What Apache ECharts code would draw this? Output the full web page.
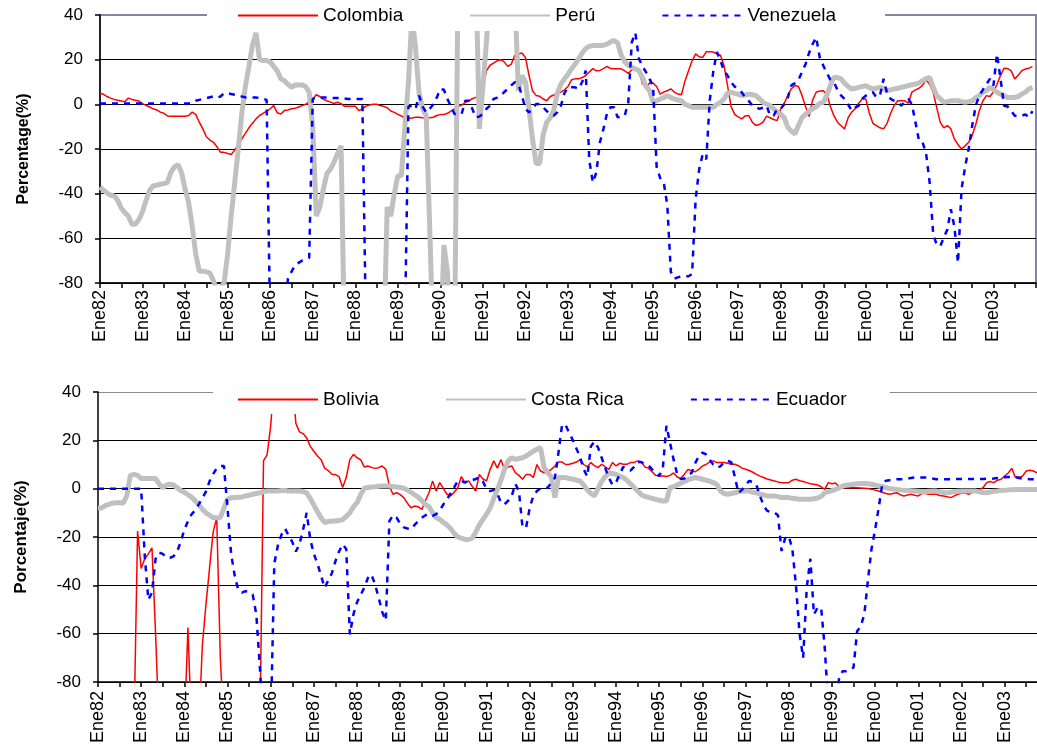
<!DOCTYPE html>
<html><head><meta charset="utf-8">
<script src="https://cdn.jsdelivr.net/npm/echarts@6/dist/echarts.min.js"></script>
<style>html,body{margin:0;padding:0;background:#fff}#c{width:1037px;height:747px}</style>
</head><body><div id="c"></div>
<script>
// ---- tick labels ----
const monthNames = ['Ene','Feb','Mar','Abr','May','Jun','Jul','Ago','Sep','Oct','Nov','Dic'];
const yearLabels = ['82','83','84','85','86','87','88','89','90','91','92','93','94','95','96','97','98','99','00','01','02','03'];
const legendTop = ['Colombia','Perú','Venezuela'];
const legendBottom = ['Bolivia','Costa Rica','Ecuador'];

// ---- series values (monthly, % ; one row per year) ----
const colombia = [
 5, 4.5, 3.5, 2.8, 2.2, 1.8, 1.5, 1.2, 2.8, 2.2, 1.8, 1.5,
 0.3, -0.5, -1.2, -2, -2.5, -3.5, -4, -5.2, -5.3, -5.3, -5.3, -5.3,
 -5.3, -5, -3.5, -4.5, -8, -11, -14.5, -16, -17, -19, -21.5, -21.5,
 -22, -22.5, -20.5, -18, -15.5, -13, -10.5, -8.5, -6.5, -5, -4, -3,
 -2, -0.6, -3.8, -4.3, -2.8, -2.5, -2, -1.8, -1.2, -0.6, 0, 1.2,
 2.4, 4.3, 3.5, 2.2, 1.6, 1, 0.4, 0.9, 0.3, -0.9, -0.9, -0.9,
 -0.9, -2.8, -2, -0.8, -0.3, 0, 0, -0.5, -0.9, -1.5, -3, -3.6,
 -4.5, -5.2, -6.3, -6.3, -6.1, -5.8, -5.8, -6, -6.1, -6, -5.8, -5,
 -4.6, -4.6, -4, -3, -2, -1, -0.3, 0.8, 1.6, 2.5, 3.1, 3.9,
 8, 15, 17.5, 18.5, 19.5, 20, 19, 17, 18, 22, 22.5, 23,
 21, 13, 6, 4, 3.6, 2.4, 1.6, 3.5, 4.2, 4.6, 5.5, 6.5,
 8, 11, 11.4, 11.4, 12, 12.9, 14.5, 16, 15, 15.2, 16, 17,
 16, 15.9, 15.9, 15.9, 15, 13.8, 15.5, 16.3, 15.2, 9.1, 7.8, 9.5,
 9.5, 8, 4.6, 5.5, 6.1, 6.9, 5.5, 4.6, 4.3, 10.5, 15, 19.5,
 22.6, 21.3, 21, 23.6, 23.5, 23.4, 22.5, 22, 17.4, 8.4, -1, -4.5,
 -5.6, -6.5, -5.2, -5, -8.1, -9.4, -9, -8, -5.3, -6, -6.8, -7.3,
 -2, 0.5, 4, 7, 8.4, 8, 4, -1, -5.5, 2, 5.4, 6,
 6.1, 4.5, -1, -5.1, -8, -9.6, -11, -6, -3.5, -2, 0.5, 2.4,
 2.4, -4, -8.5, -9.5, -10.5, -11, -8.5, -4, -0.5, 1.6, 1.6, 1.6,
 0.5, 5.5, 6.5, 7.2, 8.5, 11, 9, 5.4, -1.5, -8.1, -10.5, -9.5,
 -11, -15.6, -18, -20, -18.6, -17, -14, -9, -3, 1.5, 3.9, 3.5,
 5.5, 9, 13, 16.2, 16, 15, 11.4, 13, 15.1, 15.8, 16.2, 16.9
];
const peru = [
 -37, -38.5, -39.7, -40.7, -41, -43, -46.5, -48.5, -50, -53.7, -53.7, -51.5,
 -48, -43, -38.5, -36.5, -36.2, -35.8, -35.5, -35, -30.5, -28, -27, -30.5,
 -38, -44, -54.5, -67, -74.7, -74.7, -75, -75.5, -79, -84, -82, -80,
 -67, -50, -35, -20, -4, 8, 17, 26.5, 32, 20, 19.6, 19.6,
 19, 17, 15, 11.4, 10.6, 9, 7.6, 8.7, 8.7, 8.7, 8, 5.4,
 -10, -50, -46, -38, -31, -29, -26, -22, -18.6, -110, -110, -110,
 -110, -110, -110, -110, -110, -110, -110, -110, -110, -46, -50, -40,
 -32, -32, -10, 10, 40, 25, 5, -2, -5, -55, -110, -110,
 -110, -63, -75, -110, -110, 60, 60, 60, 60, 60, 60, -11,
 8, 28, 50, 60, 60, 60, 60, 60, 60, 50, 6, 12.9,
 10, -2, -15.6, -26.5, -26.5, -13.5, -8, -6, -2.5, 5, 9, 11.4,
 13.5, 15.9, 18, 20.4, 23, 25, 26, 26.3, 26.3, 26.3, 26.5, 27,
 28, 28.6, 27.5, 22, 19, 17.5, 16.6, 15.8, 15.1, 12, 8, 6.1,
 0.9, 1.6, 2.4, 3, 3.9, 3, 2.4, 2, 1.6, 0, -0.6, -1.3,
 -1.3, -1.3, -1.3, -1.3, -1.3, -1.3, 0, 0.9, 2.4, 5, 5.4, 4.9,
 4.5, 3.9, 4.2, 4.6, 4.3, 3.9, 2.5, 0.9, 0.1, -0.6, -2, -3.5,
 -4.3, -6, -10.3, -12, -13.3, -9.5, -6, -4.5, -3, -2, -1, 0.5,
 0.9, 4, 8.5, 12.1, 12, 11.4, 9.5, 8, 6.9, 7.2, 7.6, 8,
 8.4, 7.5, 6.9, 7.2, 7.6, 7, 6.1, 6.5, 6.9, 7.2, 7.6, 8,
 8.4, 8.8, 9.1, 9.5, 10.6, 11.5, 12.1, 7.6, 3.9, 2.5, 0.9, 1.2,
 1.6, 1.6, 1.6, 1.2, 0.9, 1.2, 1.6, 3, 3.9, 5.5, 6.1, 7.6,
 6.5, 5.4, 4.5, 3.9, 3.1, 3.1, 3.1, 3.5, 4.6, 5.5, 6.9, 7.6
];
const venezuela = [
 0.4, 0.4, 0.4, 0.4, 0.4, 0.4, 0.4, 0.4, 0.4, 0.4, 0.4, 0.4,
 0.4, 0.4, 0.4, 0.4, 0.4, 0.4, 0.4, 0.4, 0.4, 0.4, 0.4, 0.4,
 0.4, 0.4, 0.6, 1.6, 2, 2.4, 2.8, 3.2, 3.6, 3, 3.5, 5,
 5, 4.6, 4.3, 4, 3.5, 3.1, 3.1, 3.1, 3.1, 2.8, 2.4, 2,
 -100, -100, -100, -100, -100, -78, -75, -72, -71, -70, -69.5, -68.7,
 2.4, 3.1, 3.1, 3.1, 3.1, 3, 2.8, 2.8, 2.8, 2.6, 2.4, 2.4,
 2.4, 2.4, 2.4, -100, -100, -100, -100, -100, -100, -100, -100, -100,
 -100, -100, -100, -1, -0.6, -2, 3.9, -1, -3.6, -2, 0, 3.1,
 6.9, 6.5, 2.4, -1, -4.3, -4.3, -4.3, 1.6, 1.6, -2, -5.8, -5.5,
 -4.3, -2, -0.6, 2.4, 3, 3.9, 5.5, 6.9, 8.5, 9.9, 9.1, 3.9,
 -2, -3.6, -2, 0.1, 0.1, -1.3, -3, -4.3, -5.1, -3.5, -0.6, 5,
 7.6, 7.6, 7.6, 6.9, 10, 15.1, -25, -35, -30.5, -17, -11, -4,
 -1.3, -1.3, -5.8, -5.5, -5.1, 0.9, 27.8, 32, 20.5, 17, 14.4, 11.4,
 8, -28, -33, -35, -45, -75, -78, -77.5, -77, -77, -77, -76,
 -42.5, -29, -22.3, -24.6, 2, 15, 23.4, 19.6, 15, 12.9, 9.9, 8,
 6.5, 5.4, 3, 1.5, -0.5, -1.3, -2, -1.5, -0.6, -5, -5.1, -2,
 -2, 0, 3, 8.5, 9.5, 11, 14.4, 18, 23, 27, 30, 21,
 17.4, 14, 11, 9.9, 6.5, 4, 2.4, 0, -2.8, -1.5, -0.6, 2.5,
 3.9, 5, 5.4, 3.1, 4, 11.4, 5, 2.4, 1.6, 1, -0.6, 1,
 2.4, 0, -8, -16.3, -17, -22, -35, -58, -63, -63.5, -59.7, -56,
 -47, -55, -71, -38, -28, -20, -9.6, -0.6, 3.9, 6.5, 9, 11.4,
 8.4, 22.6, 11.4, -0.6, -1, -3, -5.1, -5.1, -5.1, -4.5, -5.8, -3
];
const bolivia = [
 -100, -100, -100, -100, -100, -100, -100, -100, -100, -100, -100, -17.5,
 -33, -29, -27, -24.5, -60, -100, -100, -100, -100, -100, -100, -100,
 -100, -57.5, -100, -100, -100, -65, -48, -33, -18, -12, -70, -100,
 -100, -100, -100, -100, -100, -100, -100, -100, -100, -100, 11.5, 14,
 26, 45, 45, 45, 45, 45, 45, 27, 23.5, 22.8, 21, 17.5,
 15.5, 13.5, 12, 8.5, 7.5, 6, 5.8, 5, 0.5, 4.6, 12, 14.2,
 12.8, 12, 9, 9.4, 8.8, 8.4, 8.7, 9.4, 8, 1, -2.3, -1.7,
 -2.5, -3.7, -6, -7.9, -7.2, -7.5, -8.6, -5, -1.7, 3.2, -1, 2.5,
 0, -2.3, -3, -1.5, 0.4, 5, 2.5, 3.2, 1, -1, 5.9, 4,
 3.2, 8, 11.5, 8.5, 12, 8, 9, 9.4, 6.6, 5.5, 3.9, 5.9,
 5.9, 4.6, 10, 7.3, 6.6, 7, 8, 9.4, 11, 11, 10, 10.1,
 10.5, 11, 12, 10, 9, 10.8, 9.5, 8.7, 10.1, 9, 8, 10.8,
 9.4, 10.5, 10.1, 10.1, 10.8, 10.8, 11.5, 11, 9, 8.5, 7, 5.5,
 5.2, 5.2, 5, 5.5, 6.5, 4.8, 4.2, 6, 8, 7.3, 7, 8,
 9.4, 10, 11, 11.5, 10.8, 10.8, 10.8, 10.5, 10.1, 10.1, 9.5, 8.5,
 8, 7.5, 6.8, 5.9, 5.2, 4.6, 4, 3.6, 3.2, 2.8, 2.5, 2.5,
 2.5, 3.5, 3.9, 3.3, 3, 2.5, 2, 1.8, 1.5, 0.8, -0.3, 2.5,
 2, 2.3, 0.8, 0.4, 0.4, 0.4, 0.4, 0.4, 0.3, 0.2, 0.1, -0.2,
 -0.6, -1, -1.5, -2, -2.3, -2, -1.7, -2.5, -3, -2.6, -2.3, -2.7,
 -3, -2, -2, -2.3, -2.3, -2.3, -2.8, -3, -3.3, -3.7, -3, -2.3,
 -1.8, -1.7, -2.3, -1.5, -1, -0.5, 0.4, 2.5, 3, 2.5, 3.5, 3.9,
 5.2, 6.5, 8.4, 4.6, 4.8, 5.2, 7.3, 7.6, 7.3, 6.6
];
const costaRica = [
 -8, -8, -7, -6.5, -6, -5.8, -5.8, -6, -3, 5.5, 5.9, 5.5,
 4.2, 4.2, 4.2, 4.2, 4.2, 2, 0.4, 1.5, 1.8, 1.5, 0.4, -0.8,
 -1.5, -2.5, -3.5, -5, -6.5, -8.5, -10, -11, -12, -12, -12, -8,
 -4.4, -3.8, -3.7, -3.6, -3.5, -3, -2.7, -2.3, -2, -1.7, -1.2, -1,
 -1, -1, -1, -0.8, -0.8, -1, -1, -1, -1, -1.2, -1.7, -4,
 -6.8, -9.5, -12, -14, -13.6, -13.4, -13.4, -13.2, -12.8, -11.5, -10, -7.5,
 -5.8, -2.5, 0.2, 0.5, 0.7, 0.8, 1, 1.1, 1.1, 1.1, 0.9, 0.7,
 0.5, 0.2, -0.6, -1.5, -2.5, -3.5, -5, -6.5, -7.5, -10, -12, -12.7,
 -14, -15, -16.5, -18.5, -20, -20.5, -21, -21, -20.5, -18, -15, -12.7,
 -10.5, -8, -4, -0.5, 3.5, 8, 11.5, 12.8, 12.1, 12.5, 12.8, 13.5,
 14.5, 15.5, 16.3, 17, 8.7, 6.6, 5, -3.7, 4.6, 4.6, 4.6, 4.2,
 3.9, 3.5, 3.2, 1.5, -0.5, -2, -3, 0, 3, 5, 6.6, 6.3,
 5.9, 5.2, 4.6, 3.5, 2, 0.5, -1, -2.5, -3.2, -3.6, -4, -4.4,
 -4.8, -5.1, -5.1, 0.4, 0.8, 1.5, 2.2, 3, 3.7, 4.2, 4.6, 4.3,
 3.9, 3.5, 3.2, 2.5, 1.8, -1, -2, -2.3, -2, -1.7, -1.2, -1,
 -1, -1, -1.5, -1.7, -2.3, -2.6, -3, -3, -3, -3.3, -3.7, -3.7,
 -3.7, -4, -4.2, -4.4, -4.4, -4.4, -4.4, -4.2, -3.9, -3.2, -1.7, -1.2,
 -0.8, -0.3, 0.4, 1.1, 1.4, 1.6, 1.8, 2, 2.1, 2.1, 2, 1.8,
 1.5, 1.1, 0.8, 0.4, 0.1, -0.1, -0.3, -0.5, -0.7, -0.8, -0.9, -1,
 -1.1, -1.2, -1.2, -1.1, -1, -1, -1.3, -1.6, -1.7, -1.5, -1.2, -1.1,
 -1, -1, -1, -1, -1, -1.3, -1.6, -1.7, -1.4, -1.1, -1, -0.8,
 -0.7, -0.5, -0.4, -0.3, -0.3, -0.3, -0.3, -0.3, -0.3, -0.3
];
const ecuador = [
 0, 0, 0, 0, 0, 0, 0, 0, 0, 0, 0, 0,
 0, -28, -46, -43, -29, -26.5, -27, -28.5, -28.6, -28, -26, -22,
 -17, -13.5, -10.6, -9, -6.5, -4, -1.2, 3, 6, 8.5, 9.4, 9.4,
 -8, -27, -36, -42, -43, -42.4, -43, -43.8, -52, -74, -100, -100,
 -100, -31, -23.5, -19, -16.5, -19.5, -22, -26, -23, -17, -10, -21,
 -27, -31, -36, -41, -38, -35, -30, -26, -23, -25, -60.3, -52,
 -47, -44, -41, -37, -35.5, -39.6, -45, -51, -54.5, -13.4, -11, -12,
 -14.5, -16, -16.5, -16.8, -15, -13.5, -12, -11, -10.6, -11.3, -10.5, -9,
 -6.5, -4.5, -2, 0.5, 3.2, 3.2, 2.5, 3.5, 3.5, 4, 4.6, 3,
 -0.3, -1, -0.5, -2, -5.8, -6.5, -5, -3, 2, -1, -16, -16,
 -8, -3, -1, 0, 0.4, 0.4, 2.5, 4.5, 15, 26.6, 26.2, 23,
 20, 16.5, 13, 8, 5, 17.5, 19.5, 17, 12.8, 8.5, 4.5, 1.5,
 2.5, 6, 9, 8, 7.5, 9, 11, 11, 10.1, 9.6, 8, 6.5,
 5.2, 8.5, 26, 19, 12, 6, 4, 4.2, 5.5, 6.6, 10.5, 13.5,
 14.9, 14.2, 12, 10, 8.7, 9.2, 11, 11.5, 11, 5, -1.7, -0.5,
 1.5, 3.2, 2.8, 1.5, -3, -7, -9.2, -9.6, -9.9, -11, -25.8, -20.5,
 -19.6, -25, -40, -60, -70, -41, -29, -52, -49.3, -49.3, -65.8, -90,
 -100, -95, -78, -75.5, -75.5, -75, -74, -59, -57, -52, -38, -25,
 -17, -7.9, 2, 3.3, 3.5, 3.7, 3.9, 3.9, 3.9, 4.2, 4.4, 4.6,
 4.6, 4.6, 4.6, 4.6, 4.2, 3.9, 3.9, 3.9, 3.9, 3.9, 4, 4,
 4, 4, 4, 4, 4, 4, 4, 4.1, 4.1, 4.2, 4.4, 4.6,
 4.7, 4.8, 4.8, 4.8, 4.4, 4.1, 4, 3.9, 3.9, 3.9
];

// ---- categories built from tick label arrays ----
const topCats = [];
yearLabels.forEach(y => monthNames.forEach(m => topCats.push(m + y)));
topCats.push('Ene04');
const bottomCats = topCats.slice(0, bolivia.length);

const FONT = '"Liberation Sans", Arial, Helvetica, sans-serif';
const chart = echarts.init(document.getElementById('c'), null, {renderer: 'canvas'});

function xAxis(gridIndex, cats, margin) {
  return {
    gridIndex, type: 'category', data: cats, boundaryGap: false,
    axisLine: {show: true, onZero: false, lineStyle: {color: '#000', width: 1.5}},
    axisTick: {show: true, interval: 5, length: 5, lineStyle: {color: '#000', width: 1.5}},
    axisLabel: {
      interval: (i) => i % 12 === 0 && i < 264, rotate: 90, margin,
      fontFamily: FONT, fontSize: 18, color: '#000'
    },
    splitLine: {show: false}
  };
}
function yAxis(gridIndex, name, nameSize, topColor) {
  return {
    gridIndex, type: 'value', min: -80, max: 40, interval: 20,
    name, nameLocation: 'middle', nameGap: 68,
    nameTextStyle: {fontFamily: FONT, fontWeight: 'bold', fontSize: nameSize, color: '#000'},
    axisLine: {show: true, lineStyle: {color: '#000', width: 1.5}},
    axisTick: {show: true, length: 5, lineStyle: {color: '#000', width: 1.5}},
    axisLabel: {fontFamily: FONT, fontSize: 17, color: '#000', margin: 17},
    splitLine: {show: true, lineStyle: {color: ['#000', '#000', '#000', '#000', '#000', '#000', topColor], width: 1.2}}
  };
}
function legend(names, top, left, padding) {
  return {
    data: names, left, top, orient: 'horizontal', padding, itemGap: 66,
    itemWidth: 80, itemHeight: 14, backgroundColor: '#fff', selectedMode: false,
    itemStyle: {opacity: 0},
    textStyle: {fontFamily: FONT, fontSize: 19, color: '#000'}
  };
}
const redLine = {color: '#ff0000', width: 1.5};
const grayLine = {color: '#c0c0c0', width: 5};
const blueLine = {color: '#0000ff', width: 2.5, type: [6, 6]};
function line(name, data, xi, style) {
  return {
    name, type: 'line', data, xAxisIndex: xi, yAxisIndex: xi, symbol: 'none',
    lineStyle: style, itemStyle: {color: style.color}, animation: false, clip: true
  };
}

chart.setOption({
  animation: false,
  backgroundColor: '#fff',
  grid: [
    {left: 100, top: 15, width: 936, height: 268, show: true, borderColor: '#8585a5', borderWidth: 2, backgroundColor: 'transparent'},
    {left: 98, top: 392, width: 939, height: 290}
  ],
  legend: [
    legend(legendTop, 0, 207, [6, 49, 6, 30]),
    legend(legendBottom, 385, 213, [5, 43, 5, 24])
  ],
  xAxis: [xAxis(0, topCats, 7), xAxis(1, bottomCats, 9)],
  yAxis: [yAxis(0, 'Percentage(%)', 16, '#8585a5'), yAxis(1, 'Porcentaje(%)', 17, '#948888')],
  series: [
    line('Colombia', colombia, 0, redLine),
    line('Perú', peru, 0, grayLine),
    line('Venezuela', venezuela, 0, blueLine),
    line('Bolivia', bolivia, 1, redLine),
    line('Costa Rica', costaRica, 1, grayLine),
    line('Ecuador', ecuador, 1, blueLine)
  ]
});
</script>
</body></html>
